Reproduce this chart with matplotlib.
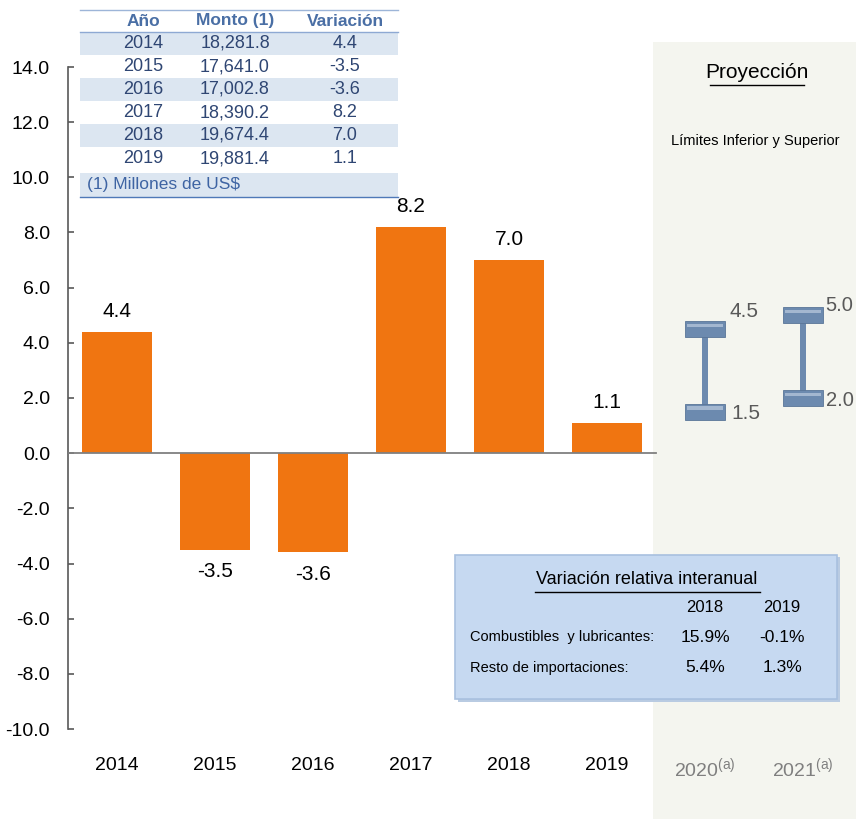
import matplotlib.pyplot as plt
from matplotlib.patches import Rectangle
from matplotlib import font_manager

W, H = 856, 819
names = {f.name for f in font_manager.fontManager.ttflist}
NARROW = [n for n in ["Liberation Sans Narrow", "Liberation Sans"] if n in names] + ["DejaVu Sans"]
SANS = ["Liberation Sans", "DejaVu Sans"]

plt.rcParams["font.family"] = NARROW
plt.rcParams["mathtext.fontset"] = "custom"
plt.rcParams["mathtext.rm"] = NARROW[0]

# ── data ──────────────────────────────────────────────────────────────────────
years = ["2014", "2015", "2016", "2017", "2018", "2019"]
proj_years = ["2020", "2021"]
variacion = [4.4, -3.5, -3.6, 8.2, 7.0, 1.1]
monto = ["18,281.8", "17,641.0", "17,002.8", "18,390.2", "19,674.4", "19,881.4"]
proj_low = [1.5, 2.0]
proj_high = [4.5, 5.0]
box_years = ["2018", "2019"]
box_rows = ["Combustibles  y lubricantes:", "Resto de importaciones:"]
box_vals = [["15.9%", "-0.1%"], ["5.4%", "1.3%"]]

ORANGE = "#F07511"
STEEL = "#6C8AAF"
STEEL_L = "#A3B7D0"
GRAY = "#595959"
SHADE = "#F4F5EF"
TBL_BLUE = "#DCE6F1"
HDR = "#4A6FA5"
TXT = "#2F4673"


def fx(x):
    return x / W


def fy(y):
    return 1 - y / H


fig = plt.figure(figsize=(W / 100, H / 100), dpi=100)
fig.patch.set_facecolor("white")

# projection shaded area
fig.patches.append(Rectangle((fx(653), 0), 1 - fx(653), fy(42), transform=fig.transFigure,
                             facecolor=SHADE, edgecolor="none", zorder=0))

ax = fig.add_axes([fx(68), fy(729), fx(852) - fx(68), fy(67) - fy(729)])
ax.set_facecolor("none")
ax.set_zorder(2)
ax.set_xlim(-0.5, 7.5)
ax.set_ylim(-10, 14)

xs = list(range(len(years)))
ax.bar(xs, variacion, width=0.71, color=ORANGE, zorder=3)
for x, v in zip(xs, variacion):
    if v >= 0:
        ax.text(x, v + 0.4, f"{v:.1f}", ha="center", va="bottom", fontsize=15, color="black")
    else:
        ax.text(x, v - 0.45, f"{v:.1f}", ha="center", va="top", fontsize=15, color="black")

ax.plot([-0.5, 5.5], [0, 0], color="#808080", lw=1.3, zorder=4)

# projection I-beams
px_ = [len(years) + i for i in range(len(proj_years))]
cap_w, cap_h = 0.41, 0.58
for x, lo, hi in zip(px_, proj_low, proj_high):
    ax.bar(x, hi - lo, bottom=lo, width=0.07, color=STEEL, zorder=3)
    for v in (lo, hi):
        ax.bar(x, cap_h, bottom=v - cap_h / 2, width=cap_w, color=STEEL,
               edgecolor="#5A7598", linewidth=0.6, zorder=4)
        ax.bar(x, cap_h * 0.22, bottom=v + cap_h * 0.12, width=cap_w * 0.9,
               color=STEEL_L, zorder=5)
ax.text(px_[0] + 0.25, proj_high[0] + 0.65, f"{proj_high[0]:.1f}", ha="left", va="center",
        fontsize=15, color=GRAY)
ax.text(px_[0] + 0.27, proj_low[0] - 0.05, f"{proj_low[0]:.1f}", ha="left", va="center",
        fontsize=15, color=GRAY)
ax.text(px_[1] + 0.23, proj_high[1] + 0.35, f"{proj_high[1]:.1f}", ha="left", va="center",
        fontsize=14.5, color=GRAY)
ax.text(px_[1] + 0.23, proj_low[1] - 0.1, f"{proj_low[1]:.1f}", ha="left", va="center",
        fontsize=14.5, color=GRAY)

# axes styling
for s in ["top", "right", "bottom"]:
    ax.spines[s].set_visible(False)
ax.spines["left"].set_color(GRAY)
ax.spines["left"].set_linewidth(1.2)
ax.set_yticks(range(-10, 15, 2))
ax.set_yticklabels([f"{t:.1f}" for t in range(-10, 15, 2)])
ax.tick_params(axis="y", direction="in", length=4, width=1.2, color=GRAY, pad=13,
               labelsize=14)
ax.set_xticks(xs + px_)
ax.set_xticklabels(years + [y + r"$^{\mathrm{(a)}}$" for y in proj_years])
ax.tick_params(axis="x", length=0, pad=20, labelsize=14)
for lbl in ax.get_xticklabels()[len(years):]:
    lbl.set_color("#7F7F7F")

# projection headings
fig.text(fx(757), fy(72), "Proyección", ha="center", va="center", fontsize=15)
fig.add_artist(plt.Line2D([fx(710), fx(804)], [fy(85), fy(85)], color="black", lw=1.0))
fig.text(fx(755), fy(141), "Límites Inferior y Superior", ha="center", va="center",
         fontsize=10.5)

# ── table (top left) ──────────────────────────────────────────────────────────
tx0, tx1 = 80, 398
col_x = [143, 235, 345]
row_top = 32
row_h = 23
fig.add_artist(plt.Line2D([fx(tx0), fx(tx1)], [fy(10), fy(10)], color="#9DB5D8", lw=1.0))
for i, h in enumerate(["Año", "Monto (1)", "Variación"]):
    fig.text(fx(col_x[i]), fy(21), h, ha="center", va="center", fontsize=12.5,
             fontweight="bold", color=HDR, family=SANS)
fig.add_artist(plt.Line2D([fx(tx0), fx(tx1)], [fy(32), fy(32)], color="#8EA9D3", lw=1.0))
for r, (yr, m, v) in enumerate(zip(years, monto, variacion)):
    yt = row_top + r * row_h
    if r % 2 == 0:
        fig.patches.append(Rectangle((fx(tx0), fy(yt + row_h)), fx(tx1) - fx(tx0), row_h / H,
                                     transform=fig.transFigure, facecolor=TBL_BLUE,
                                     edgecolor="none", zorder=1))
    yc = yt + row_h / 2
    for cx, s in zip(col_x, [yr, m, f"{v:.1f}"]):
        fig.text(fx(cx), fy(yc), s, ha="center", va="center", fontsize=13, color=TXT,
                 family=SANS, zorder=2)
yt = row_top + 6 * row_h + 3
fig.patches.append(Rectangle((fx(tx0), fy(197)), fx(tx1) - fx(tx0), (197 - yt) / H,
                             transform=fig.transFigure, facecolor=TBL_BLUE, edgecolor="none",
                             zorder=1))
fig.text(fx(87), fy((yt + 197) / 2), "(1) Millones de US$", ha="left", va="center",
         fontsize=12.5, color="#3E64A3", family=SANS, zorder=2)
fig.add_artist(plt.Line2D([fx(tx0), fx(tx1)], [fy(197), fy(197)], color="#4F79B8", lw=1.0))

# ── info box ──────────────────────────────────────────────────────────────────
fig.patches.append(Rectangle((fx(458), fy(702)), fx(840) - fx(458), (702 - 557) / H,
                             transform=fig.transFigure, facecolor="#B9CBE2", edgecolor="none",
                             zorder=5))
fig.patches.append(Rectangle((fx(455), fy(699)), fx(837) - fx(455), (699 - 555) / H,
                             transform=fig.transFigure, facecolor="#C6D9F1",
                             edgecolor="#A8C0DF", lw=1.2, zorder=6))
fig.text(fx(647), fy(580), "Variación relativa interanual", ha="center", va="center",
         fontsize=13, zorder=7)
fig.add_artist(plt.Line2D([fx(535), fx(760)], [fy(592), fy(592)], color="black", lw=1.0,
                          zorder=7))
for x, yr in zip([705, 782], box_years):
    fig.text(fx(x), fy(608), yr, ha="center", va="center", fontsize=12, zorder=7)
for r, (lab, vals) in enumerate(zip(box_rows, box_vals)):
    yc = 637 + r * 31
    fig.text(fx(470), fy(yc), lab, ha="left", va="center", fontsize=10.5, zorder=7)
    for x, s in zip([705, 782], vals):
        fig.text(fx(x), fy(yc), s, ha="center", va="center", fontsize=12.5, zorder=7)

fig.savefig("out.png", dpi=100, facecolor="white")
